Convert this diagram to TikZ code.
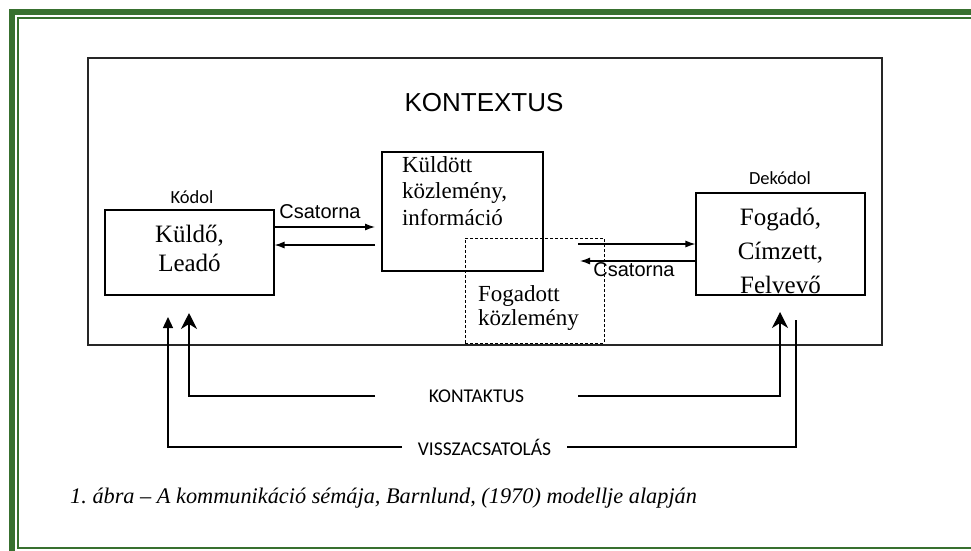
\documentclass[tikz,border=0pt]{standalone}
\usepackage{fontspec}
\setmainfont{Liberation Serif}
\newfontfamily\arialfont{Liberation Sans}
\newfontfamily\calibrifont{Carlito}
\usetikzlibrary{arrows.meta}
\definecolor{frameGreen}{HTML}{38702F}
\tikzset{
    ctxbox/.style={draw=black!85, line width=1.5pt, inner sep=0pt},
    ctxlabel/.style={font=\arialfont\fontsize{26}{30}\selectfont},
    party/.style={draw, line width=1.1pt, inner sep=0pt, align=center, font=\fontsize{25}{29}\selectfont},
    msgbox/.style={draw, line width=1.1pt, inner ysep=0pt, align=left, font=\fontsize{23}{26.5}\selectfont},
    rolelabel/.style={font=\calibrifont\fontsize{18.5}{22}\selectfont},
    chanlabel/.style={font=\arialfont\fontsize{20}{24}\selectfont, inner sep=0pt},
    chan/.style={-{Latex[length=10pt,width=7pt]}, line width=1.2pt},
    feedlabel/.style={font=\calibrifont\fontsize{19.5}{23}\selectfont, inner sep=0pt, outer sep=0pt},
    contarrow/.style={-{Stealth[length=16pt,width=16pt,inset=5pt]}, line width=1.3pt},
    backarrow/.style={-{Triangle[length=11pt,width=10pt]}, line width=1.3pt},
    backline/.style={line width=1.3pt},
    caption/.style={font=\itshape\fontsize{22.3}{26}\selectfont, inner sep=0pt}
}
\begin{document}
\begin{tikzpicture}[x=1pt, y=-1pt]
    \useasboundingbox (0,0) rectangle (971,550);
    \clip (0,0) rectangle (971,550);
    \draw[frameGreen, line width=6pt] (12,12) rectangle (1000,562);
    \draw[frameGreen, line width=1.8pt] (17.7,17.7) rectangle (990,548);

    \node[ctxbox, minimum width=794pt, minimum height=287pt] (ctx) at (485,201.5) {};
    \node[ctxlabel] (kontextus) at (484,102.5) {KONTEXTUS};

    \node[party, minimum width=169pt, minimum height=85pt, text depth=7.5pt] (kuldo) at (189.5,252.5) {Küldő,\\Leadó};
    \node[rolelabel] (kodol) at (192,197) {Kódol};
    \node[party, minimum width=169pt, minimum height=102pt, font=\fontsize{25}{34}\selectfont, text height=98pt, text depth=0pt] (fogado) at (780.5,244) {Fogadó,\\Címzett,\\Felvevő};
    \node[rolelabel] (dekodol) at (780,178) {Dekódol};

    \node[msgbox, minimum width=161pt, minimum height=119pt, text width=121pt, inner xsep=20pt, text height=15.7pt, text depth=94.7pt] (sent) at (462.5,211.5) {Küldött\\közlemény,\\információ};
    \node[msgbox, dash pattern=on 3pt off 2pt, line width=1pt, minimum width=139pt, minimum height=105pt, text width=113pt, inner xsep=13pt, font=\fontsize{23}{24}\selectfont, text height=50pt] (recv) at (534.5,290.5) {Fogadott\\közlemény};

    \node[chanlabel] (csatL) at (320,212) {Csatorna};
    \node[chanlabel] (csatR) at (634,270) {Csatorna};
    \coordinate (sentIn) at (375,227);
    \coordinate (sentOut) at (375,245);
    \coordinate (recvOut) at (578,244);
    \coordinate (recvIn) at (580,261);
    \draw[chan] (kuldo.east |- sentIn) -- (sentIn);
    \draw[chan] (sentOut) -- (kuldo.east |- sentOut);
    \draw[chan] (recvOut) -- (fogado.west |- recvOut);
    \draw[chan] (fogado.west |- recvIn) -- (recvIn);

    \node[feedlabel, minimum width=203pt] (kontakt) at (476.5,396) {KONTAKTUS};
    \node[feedlabel, minimum width=165pt] (vissza) at (484.5,447) {VISSZACSATOLÁS};
    \coordinate (kuldoK) at (189,313);
    \coordinate (kuldoV) at (168,317);
    \coordinate (fogK) at (780,312);
    \coordinate (fogV) at (796,320);
    \draw[contarrow] (kontakt.west) -| (kuldoK);
    \draw[contarrow] (kontakt.east) -| (fogK);
    \draw[backarrow] (vissza.west) -| (kuldoV);
    \draw[backline] (vissza.east) -| (fogV);

    \node[caption, anchor=base west] (cap) at (70,503) {\frenchspacing 1. ábra – A kommunikáció sémája, Barnlund, (1970) modellje alapján};
\end{tikzpicture}
\end{document}
